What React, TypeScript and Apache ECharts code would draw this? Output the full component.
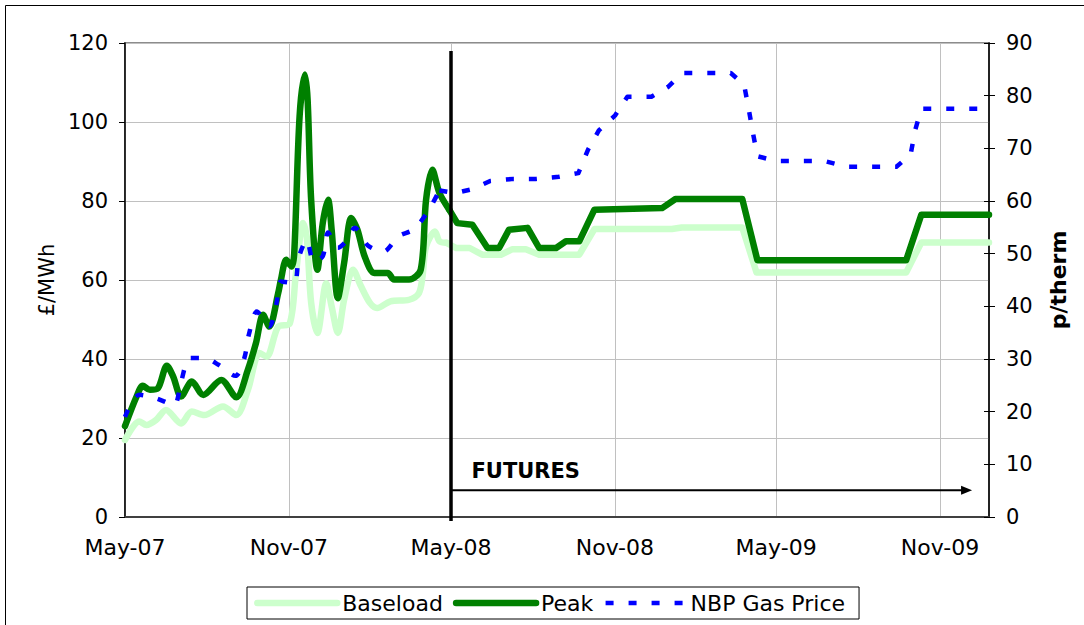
import React, { useEffect, useRef } from "react";
import * as echarts from "echarts";

// ---------- data ----------
const axisStart = "2007-05-01";
const axisEnd = "2009-12-26";
const futuresDate = "2008-05-01";

const tickDates = ["2007-05-01", "2007-11-01", "2008-05-01", "2008-11-01", "2009-05-01", "2009-11-01"];
const tickLabels = ["May-07", "Nov-07", "May-08", "Nov-08", "May-09", "Nov-09"];

const baseloadDates = [
  "2007-05-01", "2007-05-17", "2007-05-25", "2007-06-05", "2007-06-16", "2007-07-03", "2007-07-15",
  "2007-07-29", "2007-08-19", "2007-09-03", "2007-09-16", "2007-09-29", "2007-10-07", "2007-10-20",
  "2007-11-02", "2007-11-09", "2007-11-17", "2007-11-21", "2007-11-26", "2007-12-03", "2007-12-13",
  "2007-12-19", "2007-12-26", "2008-01-02", "2008-01-12", "2008-01-21", "2008-01-31", "2008-02-08",
  "2008-02-23", "2008-03-15", "2008-03-26", "2008-03-30", "2008-04-03", "2008-04-13", "2008-04-18",
  "2008-04-26", "2008-05-07", "2008-05-22", "2008-06-05", "2008-06-26", "2008-07-09", "2008-07-24",
  "2008-08-08", "2008-09-22", "2008-10-09", "2009-01-04", "2009-01-15", "2009-03-24", "2009-04-09",
  "2009-09-24", "2009-10-11", "2009-12-26",
];
const baseloadValues = [
  19.5, 24.2, 23.3, 24.6, 27.1, 23.7, 26.7,
  25.8, 28, 25.8, 32.2, 41.5, 40.6, 48.2,
  49, 61.8, 74.4, 71, 54.2, 46.6, 59.2,
  53.3, 46.6, 55, 62.6, 58.4, 54.2, 52.9,
  54.6, 55, 56.7, 60.9, 68.5, 72.3, 69.8,
  69.4, 68.1, 68.1, 66.4, 66.4, 67.8, 67.8,
  66.4, 66.4, 72.9, 72.9, 73.3, 73.3, 61.9,
  61.9, 69.5, 69.5,
];

const peakDates = [
  "2007-05-01", "2007-05-14", "2007-05-21", "2007-05-29", "2007-06-07", "2007-06-17", "2007-06-24",
  "2007-07-03", "2007-07-15", "2007-07-28", "2007-08-17", "2007-09-03", "2007-09-16", "2007-09-25",
  "2007-10-03", "2007-10-10", "2007-10-20", "2007-10-23", "2007-10-29", "2007-11-04", "2007-11-07",
  "2007-11-13", "2007-11-19", "2007-11-22", "2007-11-26", "2007-12-03", "2007-12-09", "2007-12-15",
  "2007-12-19", "2007-12-26", "2008-01-02", "2008-01-10", "2008-01-17", "2008-01-25", "2008-02-05",
  "2008-02-20", "2008-02-27", "2008-03-15", "2008-03-28", "2008-04-03", "2008-04-10", "2008-04-18",
  "2008-04-29", "2008-05-08", "2008-05-25", "2008-06-11", "2008-06-24", "2008-07-05", "2008-07-26",
  "2008-08-08", "2008-08-27", "2008-09-07", "2008-09-22", "2008-10-09", "2008-12-24", "2009-01-08",
  "2009-03-24", "2009-04-10", "2009-09-24", "2009-10-11", "2009-12-26",
];
const peakValues = [
  23, 30.5, 33.2, 32.2, 32.6, 38.3, 35.6,
  30.5, 34.3, 30.9, 34.7, 30.3, 37.3, 44,
  51.2, 48.2, 56.7, 60, 65.1, 63.4, 66.8,
  101.4, 112, 105.7, 80.3, 62.6, 74.4, 80.3,
  72.7, 55.4, 64.3, 75.7, 72.7, 66, 61.8,
  61.8, 60.1, 60.1, 62.6, 80.3, 87.9, 82,
  77.8, 74.4, 74, 68.1, 68.1, 72.7, 73.2,
  68.1, 68.1, 69.8, 69.8, 77.8, 78.2, 80.5,
  80.5, 65, 65, 76.5, 76.5,
];

const gasDates = [
  "2007-05-01", "2007-05-17", "2007-06-04", "2007-06-25", "2007-07-03", "2007-07-13", "2007-07-29",
  "2007-08-14", "2007-09-02", "2007-09-12", "2007-09-17", "2007-09-26", "2007-10-10", "2007-10-18",
  "2007-10-23", "2007-11-07", "2007-11-12", "2007-11-21", "2007-11-29", "2007-12-09", "2007-12-15",
  "2007-12-26", "2008-01-04", "2008-01-14", "2008-01-29", "2008-02-15", "2008-03-03", "2008-03-20",
  "2008-04-05", "2008-04-18", "2008-05-06", "2008-05-26", "2008-06-14", "2008-07-10", "2008-08-05",
  "2008-08-30", "2008-09-21", "2008-10-02", "2008-10-14", "2008-11-01", "2008-11-15", "2008-12-12",
  "2008-12-31", "2009-01-16", "2009-03-11", "2009-03-26", "2009-03-31", "2009-04-05", "2009-04-10",
  "2009-05-01", "2009-06-24", "2009-07-19", "2009-09-13", "2009-09-29", "2009-10-04", "2009-10-11",
  "2009-12-26",
];
const gasValues = [
  19, 23.2, 22.6, 21.3, 25.7, 30.2, 30.2,
  28.9, 26.8, 30.2, 34.6, 39, 36.2, 40.5,
  44.7, 44.4, 49.2, 52.6, 48.5, 49.5, 54,
  51.1, 52.3, 54.9, 51.5, 50.4, 53.3, 54.6,
  58, 62, 61.5, 62.3, 63.8, 64.2, 64.2,
  64.6, 65.3, 69.8, 73.4, 76.2, 79.8, 79.8,
  81.7, 84.3, 84.3, 82.1, 77.7, 72.9, 68.5,
  67.6, 67.6, 66.5, 66.5, 68.8, 73.4, 77.5,
  77.5,
];

const leftTicks = { min: 0, max: 120, interval: 20 };
const rightTicks = { min: 0, max: 90, interval: 10 };

// ---------- helpers ----------
const FONT = "DejaVu Sans";
function dayOf(s: string): number {
  const [y, m, d] = s.split("-").map(Number);
  const [y0, m0, d0] = axisStart.split("-").map(Number);
  return Math.round((Date.UTC(y, m - 1, d) - Date.UTC(y0, m0 - 1, d0)) / 86400000);
}
const tickDays = tickDates.map(dayOf);

function splitSeries(dates: string[], values: number[]) {
  const pts = dates.map((d, i) => [dayOf(d), values[i]]);
  const cut = dayOf(futuresDate);
  const hist = pts.filter((p) => p[0] <= cut);
  const lastHist = hist[hist.length - 1][0];
  const fut = pts.filter((p) => p[0] >= lastHist);
  return [hist, fut];
}

function makeSeries(name: string, dates: string[], values: number[], lineStyle: any, yAxisIndex: number, z: number) {
  const [hist, fut] = splitSeries(dates, values);
  const common = {
    name,
    type: "line",
    yAxisIndex,
    symbol: "none",
    lineStyle: { join: "round", ...lineStyle },
    itemStyle: { color: lineStyle.color },
    z,
    clip: true,
  };
  return [
    { ...common, data: hist, smooth: 0.3 },
    { ...common, data: fut, smooth: false },
  ];
}

const baseStyle = { color: "#ccffcc", width: 6.5, cap: "round" };
const peakStyle = { color: "#008000", width: 6.5, cap: "round" };
const gasStyle = { color: "#0000ff", width: 4.5, type: [8, 15], cap: "butt" };

export default function App() {
  const ref = useRef<HTMLDivElement>(null);

  useEffect(() => {
    if (!ref.current) return;
    const chart = echarts.init(ref.current, null, { renderer: "svg" });

    const option: any = {
      animation: false,
      backgroundColor: "#ffffff",
      grid: {
        left: 125,
        right: 95,
        top: 43,
        bottom: 108,
        show: true,
        borderColor: "#8c8c8c",
        borderWidth: 2,
        backgroundColor: "transparent",
      },
      legend: {
        left: 247,
        top: 587,
        data: [
          { name: "Baseload", itemStyle: { opacity: 0 }, lineStyle: { width: 6.5, cap: "round" } },
          { name: "Peak", itemStyle: { opacity: 0 }, lineStyle: { width: 6.5, cap: "round" } },
          { name: "NBP Gas Price", itemStyle: { opacity: 0 }, lineStyle: { width: 4.5, cap: "butt" } },
        ],
        itemWidth: 80,
        itemHeight: 22,
        itemGap: 10,
        padding: [5, 14, 5, 7],
        borderColor: "#000",
        borderWidth: 1,
        backgroundColor: "#fff",
        textStyle: { fontFamily: FONT, fontSize: 22, color: "#000" },
      },
      xAxis: {
        type: "value",
        min: 0,
        max: dayOf(axisEnd),
        axisLine: { show: true, lineStyle: { color: "#404040", width: 2 } },
        axisTick: { show: false, customValues: tickDays },
        axisLabel: {
          customValues: tickDays,
          formatter: (v: number) => tickLabels[tickDays.indexOf(Math.round(v))] ?? "",
          fontFamily: FONT,
          fontSize: 22,
          color: "#000",
          margin: 19,
        },
        splitLine: { show: true, lineStyle: { color: "#c0c0c0", width: 1 } },
      },
      yAxis: [
        {
          type: "value",
          ...leftTicks,
          position: "left",
          name: "£/MWh",
          nameLocation: "middle",
          nameRotate: 90,
          nameGap: 66,
          nameTextStyle: { fontFamily: FONT, fontSize: 21, color: "#000" },
          axisLine: { show: true, lineStyle: { color: "#000", width: 1.5 } },
          axisTick: { show: true, length: 6, lineStyle: { color: "#000" } },
          axisLabel: { fontFamily: FONT, fontSize: 21, color: "#000", margin: 17 },
          splitLine: { show: true, lineStyle: { color: "#c0c0c0", width: 1 } },
        },
        {
          type: "value",
          ...rightTicks,
          position: "right",
          name: "p/therm",
          nameLocation: "middle",
          nameRotate: 90,
          nameGap: 58,
          nameTextStyle: { fontFamily: FONT, fontSize: 22, fontWeight: "bold", color: "#000" },
          axisLine: { show: true, lineStyle: { color: "#000", width: 1.5 } },
          axisTick: { show: true, length: 6, lineStyle: { color: "#000" } },
          axisLabel: { fontFamily: FONT, fontSize: 21, color: "#000", margin: 17 },
          splitLine: { show: false },
        },
        {
          type: "value",
          ...rightTicks,
          position: "right",
          axisLine: { show: false },
          axisTick: { show: true, inside: true, length: 5, lineStyle: { color: "#000" } },
          axisLabel: { show: false },
          splitLine: { show: false },
        },
      ],
      series: [
        ...makeSeries("Baseload", baseloadDates, baseloadValues, baseStyle, 0, 2),
        ...makeSeries("Peak", peakDates, peakValues, peakStyle, 0, 3),
        ...makeSeries("NBP Gas Price", gasDates, gasValues, gasStyle, 1, 4),
      ],
    };
    chart.setOption(option);

    const px = (d: string) => chart.convertToPixel({ xAxisIndex: 0 }, dayOf(d)) as number;
    const py = (v: number) => chart.convertToPixel({ yAxisIndex: 0 }, v) as number;
    const vx = px(futuresDate);
    const arrowY = py(6.8);
    const tipX = px("2009-12-07");

    chart.setOption({
      graphic: [
        {
          type: "rect",
          silent: true,
          z: -1,
          shape: { x: 5.5, y: 5.5, width: 1300, height: 1000 },
          style: { fill: "none", stroke: "#000", lineWidth: 1 },
        },
        {
          type: "line",
          silent: true,
          z: 50,
          shape: { x1: vx, y1: py(118), x2: vx, y2: py(0) + 4 },
          style: { stroke: "#000", lineWidth: 3.5 },
        },
        {
          type: "line",
          silent: true,
          z: 50,
          shape: { x1: vx, y1: arrowY, x2: tipX - 8, y2: arrowY },
          style: { stroke: "#000", lineWidth: 2 },
        },
        {
          type: "polygon",
          silent: true,
          z: 50,
          shape: { points: [[tipX, arrowY], [tipX - 11, arrowY - 4.5], [tipX - 11, arrowY + 4.5]] },
          style: { fill: "#000" },
        },
        {
          type: "text",
          silent: true,
          z: 50,
          x: px("2008-05-24"),
          y: py(11.7),
          style: {
            text: "FUTURES",
            fontFamily: FONT,
            fontSize: 21,
            fontWeight: "bold",
            fill: "#000",
            align: "left",
            verticalAlign: "middle",
          },
        },
      ],
    });

    return () => chart.dispose();
  }, []);

  return (
    <div
      ref={ref}
      style={{ position: "absolute", left: 0, top: 0, width: 1084, height: 625, background: "#fff" }}
    />
  );
}
